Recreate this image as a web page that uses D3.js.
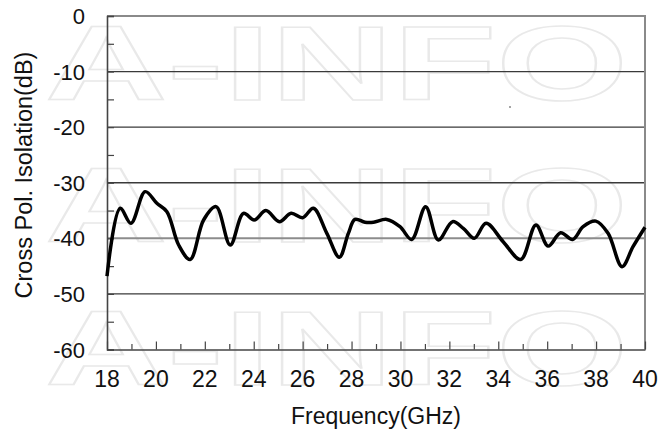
<!DOCTYPE html>
<html>
<head>
<meta charset="utf-8">
<script src="https://cdn.jsdelivr.net/npm/d3@7"></script>
<style>
  body { margin: 0; background: #fff; }
  svg { display: block; }
</style>
</head>
<body>
<svg id="chart"></svg>
<script>
// 曲线读数 (GHz, dB)
const freq = [18.0, 18.54, 18.98, 19.56, 20.04, 20.45, 20.93, 21.4, 21.95, 22.46, 23.04, 23.58,
  24.02, 24.5, 25.05, 25.53, 26.0, 26.44, 26.99, 27.5, 27.87, 28.14, 28.55, 28.9, 29.44, 29.98,
  30.46, 31.03, 31.55, 32.13, 32.57, 33.02, 33.5, 34.2, 34.92, 35.54, 36.04, 36.55, 37.04,
  37.47, 37.99, 38.49, 39.06, 39.51, 40.0];
const isolation = [-46.8, -34.6, -37.3, -31.6, -33.7, -35.2, -41.2, -43.8, -36.7, -34.3, -41.2, -35.5,
  -36.7, -35.0, -37.0, -35.5, -36.3, -34.6, -39.1, -43.4, -39.1, -36.6, -37.1, -37.1, -36.6, -37.9,
  -40.2, -34.3, -40.3, -37.0, -38.2, -40.0, -37.3, -40.6, -43.8, -37.6, -41.4, -39.0, -40.2,
  -37.9, -36.9, -39.1, -45.1, -41.5, -38.0];

const xTicks = [18, 20, 22, 24, 26, 28, 30, 32, 34, 36, 38, 40];
const yTicks = [0, -10, -20, -30, -40, -50, -60];
const watermarkText = "A-INFO";

const width = 658, height = 435;
const margin = { left: 107, right: 13, top: 16, bottom: 85.5 };

const svg = d3.select("#chart")
    .attr("width", width)
    .attr("height", height);

const x = d3.scaleLinear().domain([18, 40]).range([margin.left, width - margin.right]);
const y = d3.scaleLinear().domain([-60, 0]).range([height - margin.bottom, margin.top]);

const font = "'Liberation Sans', Arial, sans-serif";

// 水印 (背景)
[100, 242, 385].forEach(b => {
    svg.append("text")
        .attr("x", 45)
        .attr("y", b)
        .attr("textLength", 583)
        .attr("lengthAdjust", "spacingAndGlyphs")
        .style("font-family", font)
        .style("font-weight", "bold")
        .style("font-size", "105px")
        .attr("fill", "none")
        .attr("stroke", "#e9e9e9")
        .attr("stroke-width", 1.5)
        .text(watermarkText);
});

// 网格线
svg.append("g")
    .selectAll("line")
    .data(yTicks.filter(d => d !== 0 && d !== -60))
    .enter()
    .append("line")
    .attr("x1", x(18))
    .attr("x2", x(40))
    .attr("y1", d => y(d))
    .attr("y2", d => y(d))
    .attr("stroke", d => d === -40 ? "#8c8c8c" : "#3a3a3a")
    .attr("stroke-width", d => d === -40 ? 2 : 1.3);

// 上边框和右边框
svg.append("path")
    .attr("d", `M${x(18)},${y(0)}H${x(40)}V${y(-60)}`)
    .attr("fill", "none")
    .attr("stroke", "#8a8a8a")
    .attr("stroke-width", 2);

// y 轴
const yAxis = d3.axisRight(y)
    .tickValues(d3.range(-60, 1, 5))
    .tickSize(7)
    .tickFormat("");
const gy = svg.append("g")
    .attr("transform", `translate(${x(18)},0)`)
    .call(yAxis);
gy.select(".domain").attr("stroke", "#444").attr("stroke-width", 1.6);
gy.selectAll(".tick line").attr("stroke", "#444").attr("stroke-width", 1.2);

svg.append("g")
    .selectAll("text")
    .data(yTicks)
    .enter()
    .append("text")
    .attr("x", 85)
    .attr("y", d => y(d) + 8)
    .attr("text-anchor", "end")
    .style("font-family", font)
    .style("font-size", "22px")
    .attr("fill", "#111")
    .text(d => d);

// x 轴
const xAxis = d3.axisTop(x)
    .tickValues(d3.range(18, 41, 1))
    .tickSize(0)
    .tickFormat("");
const gx = svg.append("g")
    .attr("transform", `translate(0,${y(-60)})`)
    .call(xAxis);
gx.select(".domain").attr("stroke", "#444").attr("stroke-width", 1.6);
gx.selectAll(".tick line")
    .attr("y2", d => d % 2 === 0 ? -8 : -5.5)
    .attr("stroke", "#444")
    .attr("stroke-width", 1.2);

svg.append("g")
    .selectAll("text")
    .data(xTicks)
    .enter()
    .append("text")
    .attr("x", d => x(d))
    .attr("y", 387)
    .attr("text-anchor", "middle")
    .style("font-family", font)
    .style("font-size", "23px")
    .attr("fill", "#111")
    .text(d => d);

// 曲线
const line = d3.line()
    .x((d, i) => x(freq[i]))
    .y(d => y(d))
    .curve(d3.curveCatmullRom.alpha(0.5));

svg.append("path")
    .datum(isolation)
    .attr("d", line)
    .attr("fill", "none")
    .attr("stroke", "#000")
    .attr("stroke-width", 3.5)
    .attr("stroke-linejoin", "round");

// 轴标题
svg.append("text")
    .attr("x", 376)
    .attr("y", 424)
    .attr("text-anchor", "middle")
    .style("font-family", font)
    .style("font-size", "23px")
    .attr("fill", "#111")
    .text("Frequency(GHz)");

svg.append("text")
    .attr("transform", "translate(32,175) rotate(-90)")
    .attr("text-anchor", "middle")
    .style("font-family", font)
    .style("font-size", "23.5px")
    .attr("fill", "#111")
    .text("Cross Pol. Isolation(dB)");

// 小点
svg.append("circle")
    .attr("cx", 510)
    .attr("cy", 107)
    .attr("r", 0.8)
    .attr("fill", "#333");
</script>
</body>
</html>
